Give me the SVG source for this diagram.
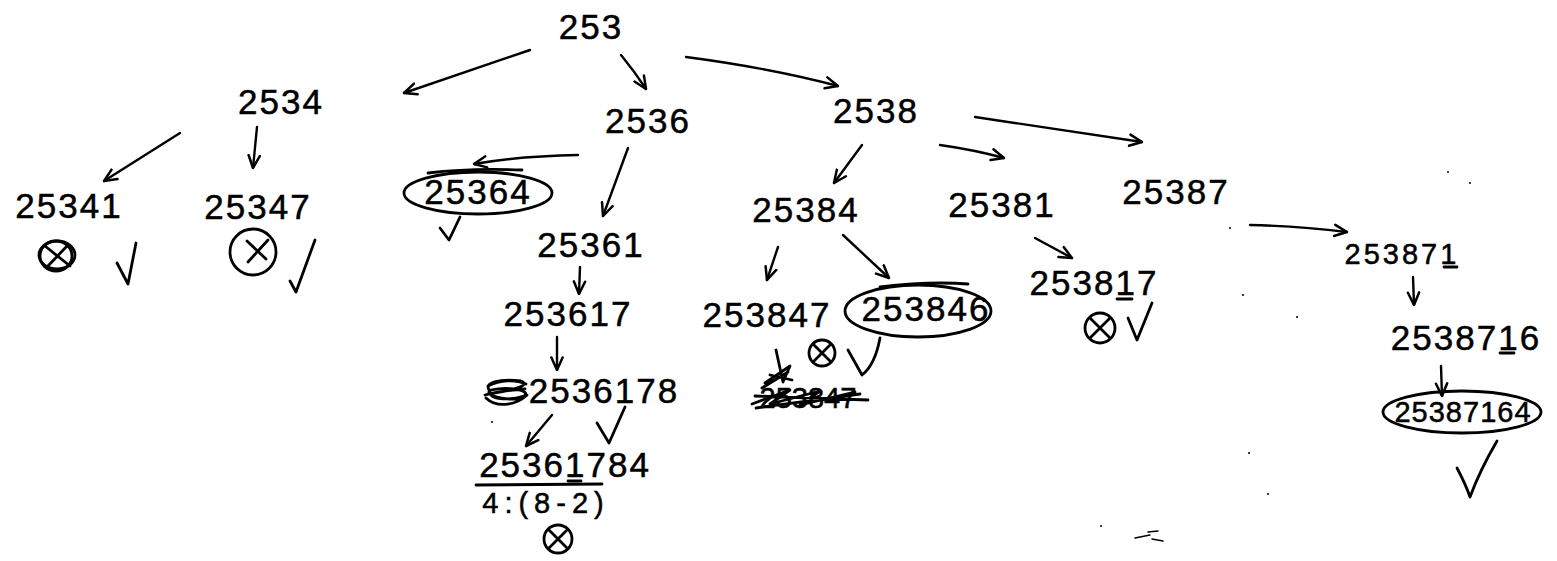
<svg xmlns="http://www.w3.org/2000/svg" width="1557" height="561" viewBox="0 0 1557 561">
  <style>
    .n { font-family: "Liberation Sans", Arial, sans-serif; font-size: 35px; fill: #000; stroke: #000; stroke-width: 0.5; text-anchor: middle; letter-spacing: 2px; }
    .s { font-size: 29px; letter-spacing: 1px; }
    .ink { fill: none; stroke: #000; stroke-width: 2.8; stroke-linecap: round; stroke-linejoin: round; }
    .edge { fill: none; stroke: #000; stroke-width: 2.4; stroke-linecap: round; marker-end: url(#head); }
    .dot { fill: #000; }
  </style>
  <defs>
    <marker id="head" viewBox="0 0 12 12" refX="11" refY="6" markerWidth="15" markerHeight="15" markerUnits="userSpaceOnUse" orient="auto">
      <path d="M1,1.5 L11,6 L1,10.5" fill="none" stroke="#000" stroke-width="2" stroke-linecap="round" stroke-linejoin="round"/>
    </marker>
  </defs>
  <rect width="1557" height="561" fill="#fff"/>

  <!-- connectors -->
  <g id="connectors">
    <path class="edge" d="M530,50 L404,93"/>
    <path class="edge" d="M621,55 Q635,72 646,89"/>
    <path class="edge" d="M686,57 Q770,68 838,86"/>
    <path class="edge" d="M180,133 L104,181"/>
    <path class="edge" d="M257,127 L253,168"/>
    <path class="edge" d="M578,155 Q520,156 474,164"/>
    <path class="edge" d="M628,148 L603,216"/>
    <path class="edge" d="M580,267 L579,294"/>
    <path class="edge" d="M557,337 L557,370"/>
    <path class="edge" d="M552,415 L526,446"/>
    <path class="edge" d="M862,145 L834,183"/>
    <path class="edge" d="M940,145 Q975,150 1004,158"/>
    <path class="edge" d="M975,117 L1142,142"/>
    <path class="edge" d="M778,247 L767,280"/>
    <path class="edge" d="M843,235 L889,278"/>
    <path class="edge" d="M1035,238 L1072,258"/>
    <path class="edge" d="M1250,225 Q1300,226 1347,232"/>
    <path class="edge" d="M1413,277 L1414,305"/>
    <path class="edge" d="M1441,366 L1442,396"/>
  </g>

  <g id="n253"><text class="n" x="591" y="39">253</text></g>
  <g id="n2534"><text class="n" x="281" y="114">2534</text></g>
  <g id="n2536"><text class="n" x="648" y="133">2536</text></g>
  <g id="n2538"><text class="n" x="876" y="123">2538</text></g>

  <g id="n25341">
    <text class="n" x="69" y="218">25341</text>
    <ellipse class="ink" cx="57" cy="255" rx="18" ry="14"/>
    <ellipse class="ink" cx="56" cy="256" rx="16" ry="15"/>
    <path class="ink" d="M45,246 L70,266 M68,245 L47,267"/>
    <path class="ink" d="M117,263 L128,284 L136,243"/>
  </g>

  <g id="n25347">
    <text class="n" x="258" y="219">25347</text>
    <circle class="ink" cx="253" cy="252" r="23"/>
    <path class="ink" d="M247,241 L266,259 M268,240 L248,262"/>
    <path class="ink" d="M290,281 L296,292 L315,240"/>
  </g>

  <g id="n25364">
    <ellipse class="ink" cx="478" cy="193" rx="74" ry="21"/>
    <path class="ink" d="M428,173 Q470,168 522,170"/>
    <text class="n" x="478" y="204">25364</text>
    <path class="ink" d="M440,228 L449,240 L460,217"/>
  </g>

  <g id="n25361"><text class="n" x="591" y="257">25361</text></g>
  <g id="n253617"><text class="n" x="568" y="326">253617</text></g>

  <g id="n2536178">
    <path class="ink" d="M490,391 C482,383 500,378 521,381 C531,385 515,390 494,393 C484,397 506,402 524,396 C532,391 510,386 491,390 C483,394 499,400 517,399 M486,398 C495,407 514,407 527,395 M488,386 C500,380 515,379 526,384 M485,395 C496,392 512,390 525,389"/>
    <text class="n" x="604" y="403">2536178</text>
    <path class="ink" d="M597,423 L609,443 L625,407"/>
  </g>

  <g id="n25361784">
    <text class="n" x="565" y="477">25361784</text>
    <path class="ink" d="M568,481 L581,481"/>
    <path class="ink" d="M476,485 L602,484"/>
    <text class="n s" x="546" y="513" style="letter-spacing:6px">4:(8-2)</text>
    <circle class="ink" cx="558" cy="539" r="14"/>
    <path class="ink" d="M549,530 L567,548 M567,530 L549,548"/>
  </g>

  <g id="n25384"><text class="n" x="806" y="222">25384</text></g>
  <g id="n25381"><text class="n" x="1002" y="217">25381</text></g>
  <g id="n25387"><text class="n" x="1176" y="204">25387</text></g>

  <g id="n253847">
    <text class="n" x="767" y="327">253847</text>
    <circle class="ink" cx="822" cy="353" r="13"/>
    <path class="ink" d="M814,345 L830,361 M830,345 L814,361"/>
    <!-- struck-out attempt -->
    <path class="ink" d="M765,383 L790,366 L783,382 L776,350 M770,375 L792,380 M762,388 L788,372"/>
    <text class="n s" x="808" y="408" style="letter-spacing:0">253847</text>
    <path class="ink" d="M752,404 L790,390 L770,404 L820,391 L800,405 L855,392 M755,396 L868,400 M756,408 L860,394"/>
  </g>

  <g id="n253846">
    <ellipse class="ink" cx="918" cy="311" rx="73" ry="26"/>
    <path class="ink" d="M880,287 Q930,281 968,284"/>
    <text class="n" x="926" y="321">253846</text>
    <path class="ink" d="M848,350 L862,375 Q875,365 880,338"/>
  </g>

  <g id="n253817">
    <text class="n" x="1094" y="295">253817</text>
    <path class="ink" d="M1117,299 L1132,299"/>
    <circle class="ink" cx="1100" cy="328" r="15"/>
    <path class="ink" d="M1090,318 L1110,338 M1110,318 L1090,338"/>
    <path class="ink" d="M1128,318 L1137,340 L1152,303"/>
  </g>

  <g id="n253871">
    <text class="n s" x="1402" y="264" style="letter-spacing:3px">253871</text>
    <path class="ink" d="M1444,267 L1457,267"/>
  </g>

  <g id="n2538716">
    <text class="n" x="1466" y="350">2538716</text>
    <path class="ink" d="M1500,353 L1514,353"/>
  </g>

  <g id="n25387164">
    <ellipse class="ink" cx="1462" cy="412" rx="79" ry="21"/>
    <text class="n s" x="1463" y="422">25387164</text>
    <path class="ink" d="M1457,468 Q1466,485 1470,497 Q1480,470 1497,441"/>
  </g>

  <!-- stray marks on the sheet -->
  <g id="specks">
    <circle class="dot" cx="1448" cy="172" r="1"/>
    <circle class="dot" cx="1470" cy="183" r="1"/>
    <circle class="dot" cx="1230" cy="228" r="1"/>
    <circle class="dot" cx="1243" cy="295" r="1"/>
    <circle class="dot" cx="1297" cy="317" r="1"/>
    <circle class="dot" cx="1249" cy="453" r="1"/>
    <circle class="dot" cx="1268" cy="494" r="1"/>
    <circle class="dot" cx="1101" cy="526" r="1"/>
    <circle class="dot" cx="492" cy="422" r="1"/>
    <path class="ink" d="M1135,538 L1150,535 M1148,532 L1158,531 M1152,539 L1163,541" style="stroke-width:1.5"/>
  </g>
</svg>
